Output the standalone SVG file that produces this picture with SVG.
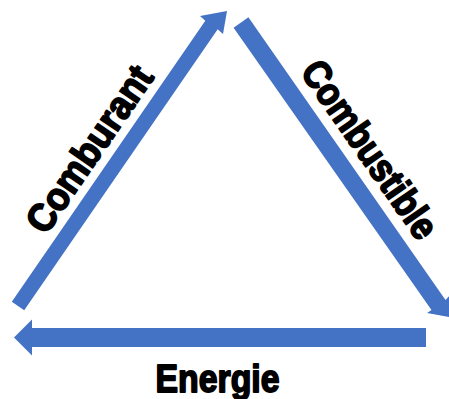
<svg xmlns="http://www.w3.org/2000/svg" width="449" height="399" viewBox="0 0 449 399">
<style>
.arrow{fill:#4472C4;}
.lbl{font-family:"Liberation Sans",Arial,sans-serif;font-weight:bold;font-size:39px;fill:#000;stroke:#000;stroke-width:1.8px;stroke-linejoin:round;text-anchor:middle;}
</style>
<rect width="449" height="399" fill="#fff"/>
<g id="connectors">
<polygon id="arrow-comburant" class="arrow" points="11.8,301.7 205.3,20.7 200,16 227,11 223,34 217.7,29.3 24.2,310.3"/>
<polygon id="arrow-combustible" class="arrow" points="248.4,17.3 445.5,300.1 450,295 454,318 427,313 431.5,309.9 233.6,27.7"/>
<polygon id="arrow-energie" class="arrow" points="426,328 32,328 32,319.5 14,337.5 32,355.5 32,347 426,347"/>
</g>
<g id="comburant" transform="translate(114.3,166.1) rotate(-55.5)">
<text class="lbl" x="0" y="-17" textLength="193" lengthAdjust="spacingAndGlyphs">Comburant</text>
</g>
<g id="combustible" transform="translate(342.5,168.5) rotate(55.1)">
<text class="lbl" x="0" y="-20" textLength="208" lengthAdjust="spacingAndGlyphs">Combustible</text>
</g>
<g id="energie">
<text class="lbl" x="217.5" y="391.5" textLength="124" lengthAdjust="spacingAndGlyphs">Energie</text>
</g>
</svg>
